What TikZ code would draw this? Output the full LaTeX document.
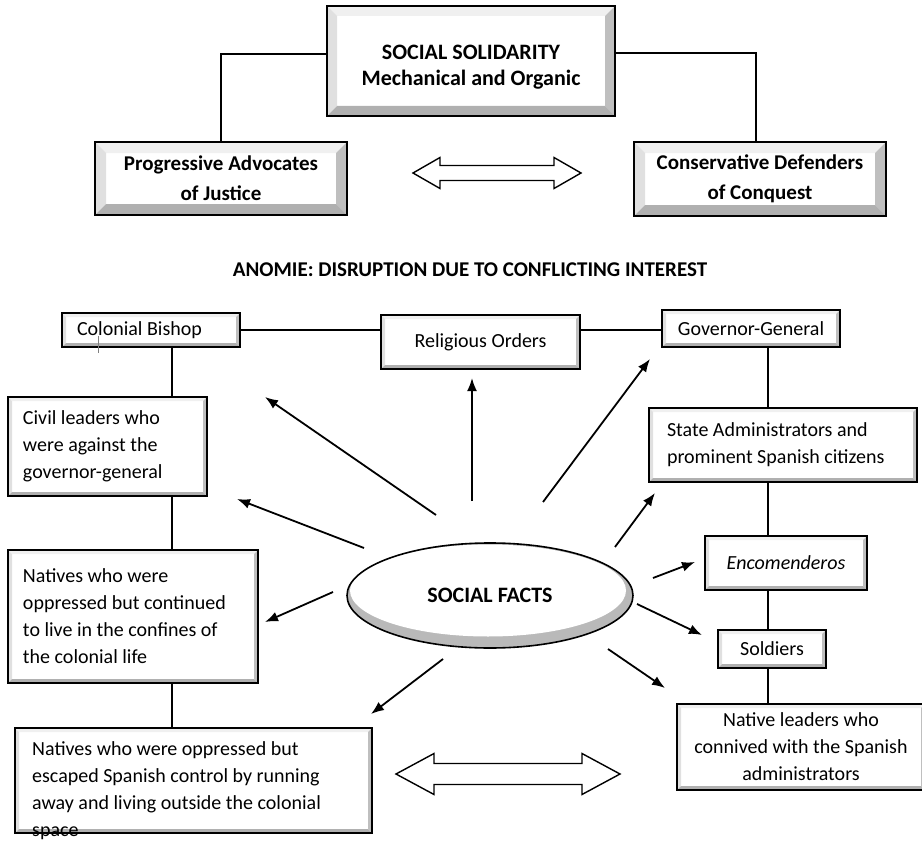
\documentclass[tikz,border=0pt]{standalone}
\usepackage{fontspec}
\setmainfont{Carlito}
\usetikzlibrary{arrows.meta,shapes.geometric,calc}

\newcommand\bevelfill[1]{%
 \fill[gray!12] (path picture bounding box.north west) -- (path picture bounding box.north east) -- ([xshift=-#1pt,yshift=-#1pt]path picture bounding box.north east) -- ([xshift=#1pt,yshift=-#1pt]path picture bounding box.north west) -- cycle;
 \fill[gray!24] (path picture bounding box.north west) -- (path picture bounding box.south west) -- ([xshift=#1pt,yshift=#1pt]path picture bounding box.south west) -- ([xshift=#1pt,yshift=-#1pt]path picture bounding box.north west) -- cycle;
 \fill[gray!50] (path picture bounding box.north east) -- (path picture bounding box.south east) -- ([xshift=-#1pt,yshift=#1pt]path picture bounding box.south east) -- ([xshift=-#1pt,yshift=-#1pt]path picture bounding box.north east) -- cycle;
 \fill[gray!62] (path picture bounding box.south west) -- (path picture bounding box.south east) -- ([xshift=-#1pt,yshift=#1pt]path picture bounding box.south east) -- ([xshift=#1pt,yshift=#1pt]path picture bounding box.south west) -- cycle;
}
\newcommand\hollowdbl[6]{% x1 x2 y headhalf shafthalf headlen
 \draw[line width=1.4pt, fill=white, line join=miter] (#1,#3) -- (#1+#6,#3-#4) -- (#1+#6,#3-#5) -- (#2-#6,#3-#5) -- (#2-#6,#3-#4) -- (#2,#3) -- (#2-#6,#3+#4) -- (#2-#6,#3+#5) -- (#1+#6,#3+#5) -- (#1+#6,#3+#4) -- cycle;}

\tikzset{
 txt/.style={font=\fontsize{20pt}{27pt}\selectfont, text=black},
 boldtxt/.style={font=\bfseries\fontsize{22pt}{26pt}\selectfont, text=black},
 bx/.style={draw, line width=1.5pt, fill=white, rectangle, inner sep=0pt, txt, path picture={\bevelfill{#1}}},
 conn/.style={line width=1.8pt, black},
 arr/.style={line width=1.8pt, black, -{Latex[length=13pt,width=10pt]}},
}

\begin{document}
\begin{tikzpicture}[x=1pt,y=-1pt]
\fill[white] (0,0) rectangle (922,843);
\useasboundingbox (0,0) rectangle (922,843);

% top part
\node[bx=10, minimum width=288pt, minimum height=110pt] (ss) at (471,61) {};
\node[boldtxt, align=center, inner sep=0pt] (sst) at (471,67) {SOCIAL SOLIDARITY\\Mechanical and Organic};
\node[bx=11, boldtxt, font=\bfseries\fontsize{21pt}{30pt}\selectfont, minimum width=252pt, minimum height=73pt, align=center] (pa) at (221,178.5) {Progressive Advocates\\of Justice};
\node[bx=11, boldtxt, font=\bfseries\fontsize{21pt}{30pt}\selectfont, minimum width=252pt, minimum height=74pt, align=center] (cd) at (760,179) {Conservative Defenders\\of Conquest};
\draw[conn] ([yshift=7pt]ss.west) -| (pa.north);
\draw[conn] ([yshift=8pt]ss.east) -| ([xshift=-4pt]cd.north);
\hollowdbl{413}{581}{173}{15.5}{7.5}{27}

\node[boldtxt, font=\bfseries\fontsize{21pt}{26pt}\selectfont] (anomie) at (470,270) {ANOMIE: DISRUPTION DUE TO CONFLICTING INTEREST};

% boxes
\node[bx=4, minimum width=178pt, minimum height=34pt, text width=148pt, align=flush left] (cb) at (151,330) {Colonial Bishop};
\node[bx=4, minimum width=199pt, minimum height=54pt, align=center] (ro) at (480.5,342) {Religious Orders};
\node[bx=4, minimum width=178pt, minimum height=37pt, align=center] (gg) at (751,328.5) {Governor-General};
\node[bx=4, minimum width=199pt, minimum height=99pt, text width=169pt, align=flush left] (civ) at (107.5,446.5) {Civil leaders who\\were against the\\governor-general};
\node[bx=4, minimum width=250pt, minimum height=133pt, text width=220pt, align=flush left] (nat1) at (133,616.5) {Natives who were\\oppressed but continued\\to live in the confines of\\the colonial life};
\node[bx=4, minimum width=357pt, minimum height=105pt] (nat2) at (193.5,780.5) {};
\node[txt, anchor=north west, inner sep=0pt, align=flush left] (nat2t) at (32,741) {Natives who were oppressed but\\escaped Spanish control by running\\away and living outside the colonial\\space};
\node[bx=4, minimum width=268pt, minimum height=74pt, text width=232pt, align=flush left] (sa) at (783,445) {State Administrators and\\prominent Spanish citizens};
\node[bx=4, minimum width=162pt, minimum height=54pt, align=center] (enc) at (786,563) {\itshape Encomenderos};
\node[bx=4, minimum width=108pt, minimum height=38pt, align=center] (sol) at (772,649) {Soldiers};
\node[bx=4, minimum width=248pt, minimum height=86pt, align=center] (nl) at (801,747) {Native leaders who\\connived with the Spanish\\administrators};

% cursor mark
\draw[gray, line width=0.8pt] (98,336) -- (98,353);

% chains
\coordinate (Lx) at (172,0);
\coordinate (Rx) at (768,0);
\draw[conn] (cb.east) -- (cb.east -| ro.west);
\draw[conn] (ro.east |- cb.east) -- (gg.west |- cb.east);
\draw[conn] (cb.south -| Lx) -- (civ.north -| Lx);
\draw[conn] (civ.south -| Lx) -- (nat1.north -| Lx);
\draw[conn] (nat1.south -| Lx) -- (nat2.north -| Lx);
\draw[conn] (gg.south -| Rx) -- (sa.north -| Rx);
\draw[conn] (sa.south -| Rx) -- (enc.north -| Rx);
\draw[conn] (enc.south -| Rx) -- (sol.north -| Rx);
\draw[conn] (sol.south -| Rx) -- (nl.north -| Rx);

% ellipse
\node[ellipse, draw, line width=1.6pt, minimum width=286pt, minimum height=105pt, inner sep=0pt, fill=gray!55,
 path picture={\fill[white] ([xshift=-2pt,yshift=5pt]path picture bounding box.center) ellipse (138pt and 46pt);},
 boldtxt] (sf) at (490,595.5) {SOCIAL FACTS};

% arrows from social facts
\coordinate (a1s) at (436,515); \coordinate (a1e) at (265,397);
\coordinate (a2s) at (364,548); \coordinate (a2e) at (237,499);
\coordinate (a3s) at (333,592); \coordinate (a3e) at (265,622);
\coordinate (a4s) at (443,659); \coordinate (a4e) at (371,714);
\coordinate (a5s) at (472,501); \coordinate (a5e) at (472,378);
\coordinate (a6s) at (543,502); \coordinate (a6e) at (650,359);
\coordinate (a7s) at (615,547); \coordinate (a7e) at (655,493);
\coordinate (a8s) at (653,578); \coordinate (a8e) at (695,562);
\coordinate (a9s) at (637,604); \coordinate (a9e) at (702,635);
\coordinate (a10s) at (608,649); \coordinate (a10e) at (665,688);
\foreach \i in {1,...,10} {\draw[arr] (a\i s) -- (a\i e);}

\hollowdbl{396}{620}{774}{20.5}{10.5}{38}
\end{tikzpicture}
\end{document}
